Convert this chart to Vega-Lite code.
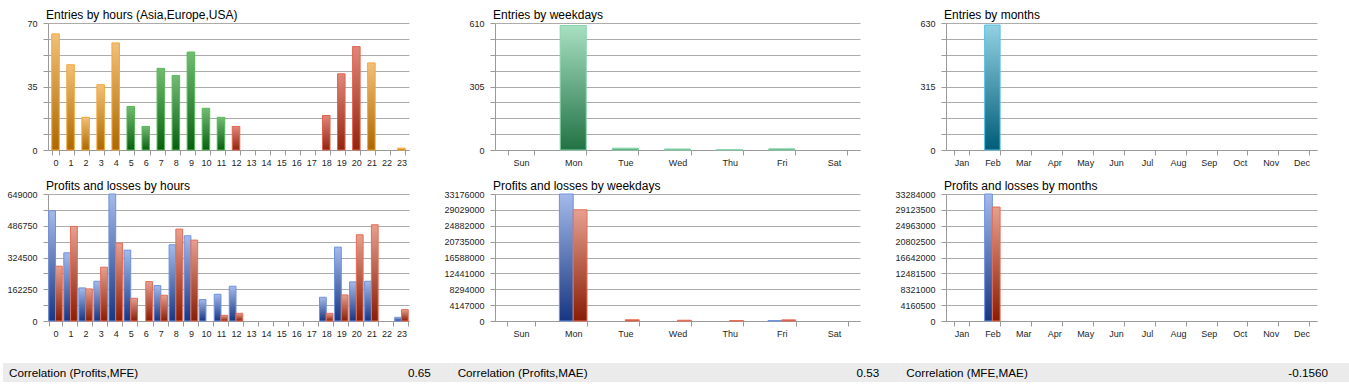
{
  "$schema": "https://vega.github.io/schema/vega-lite/v6.json",
  "padding": {"left": 3, "top": 9, "right": 0, "bottom": 0},
  "autosize": {"type": "pad"},
  "background": "white",
  "config": {
    "view": {"stroke": null},
    "axis": {
      "labelFont": "Liberation Sans", "labelFontSize": 9, "labelColor": "#1e1e1e",
      "domainColor": "#9a9a9a", "tickColor": "#9a9a9a", "gridColor": "#ababab", "gridWidth": 1,
      "tickSize": 5, "title": null, "labelOverlap": false
    },
    "axisY": {"labelPadding": 6, "labelFlush": false, "format": "d", "grid": true},
    "axisX": {"labelPadding": 3, "labelAngle": 0, "tickBand": "extent", "grid": false},
    "title": {"font": "Liberation Sans", "fontSize": 12, "fontWeight": "normal", "anchor": "start", "frame": "group", "color": "#000000", "offset": -3, "dx": -2, "baseline": "alphabetic"}
  },
  "datasets": {
    "hours": [
      {"hour": 0, "entries": 64, "zone": "Asia"}, {"hour": 1, "entries": 47, "zone": "Asia"},
      {"hour": 2, "entries": 18, "zone": "Asia"}, {"hour": 3, "entries": 36, "zone": "Asia"},
      {"hour": 4, "entries": 59, "zone": "Asia"}, {"hour": 5, "entries": 24, "zone": "Europe"},
      {"hour": 6, "entries": 13, "zone": "Europe"}, {"hour": 7, "entries": 45, "zone": "Europe"},
      {"hour": 8, "entries": 41, "zone": "Europe"}, {"hour": 9, "entries": 54, "zone": "Europe"},
      {"hour": 10, "entries": 23, "zone": "Europe"}, {"hour": 11, "entries": 18, "zone": "Europe"},
      {"hour": 12, "entries": 13, "zone": "USA"}, {"hour": 13, "entries": 0, "zone": "USA"},
      {"hour": 14, "entries": 0, "zone": "USA"}, {"hour": 15, "entries": 0, "zone": "USA"},
      {"hour": 16, "entries": 0, "zone": "USA"}, {"hour": 17, "entries": 0, "zone": "USA"},
      {"hour": 18, "entries": 19, "zone": "USA"}, {"hour": 19, "entries": 42, "zone": "USA"},
      {"hour": 20, "entries": 57, "zone": "USA"}, {"hour": 21, "entries": 48, "zone": "Asia"},
      {"hour": 22, "entries": 0, "zone": "Asia"}, {"hour": 23, "entries": 1, "zone": "Asia"}
    ],
    "hourpl": [
      {"hour": 0, "kind": "Profits", "amount": 563600}, {"hour": 0, "kind": "Losses", "amount": 280100},
      {"hour": 1, "kind": "Profits", "amount": 348400}, {"hour": 1, "kind": "Losses", "amount": 483300},
      {"hour": 2, "kind": "Profits", "amount": 169100}, {"hour": 2, "kind": "Losses", "amount": 164000},
      {"hour": 3, "kind": "Profits", "amount": 203200}, {"hour": 3, "kind": "Losses", "amount": 275000},
      {"hour": 4, "kind": "Profits", "amount": 649000}, {"hour": 4, "kind": "Losses", "amount": 397900},
      {"hour": 5, "kind": "Profits", "amount": 362100}, {"hour": 5, "kind": "Losses", "amount": 116100},
      {"hour": 6, "kind": "Profits", "amount": 0}, {"hour": 6, "kind": "Losses", "amount": 201500},
      {"hour": 7, "kind": "Profits", "amount": 181000}, {"hour": 7, "kind": "Losses", "amount": 131500},
      {"hour": 8, "kind": "Profits", "amount": 389400}, {"hour": 8, "kind": "Losses", "amount": 469700},
      {"hour": 9, "kind": "Profits", "amount": 435500}, {"hour": 9, "kind": "Losses", "amount": 413300},
      {"hour": 10, "kind": "Profits", "amount": 109300}, {"hour": 10, "kind": "Losses", "amount": 0},
      {"hour": 11, "kind": "Profits", "amount": 136600}, {"hour": 11, "kind": "Losses", "amount": 29000},
      {"hour": 12, "kind": "Profits", "amount": 177600}, {"hour": 12, "kind": "Losses", "amount": 39300},
      {"hour": 18, "kind": "Profits", "amount": 121300}, {"hour": 18, "kind": "Losses", "amount": 39300},
      {"hour": 19, "kind": "Profits", "amount": 377500}, {"hour": 19, "kind": "Losses", "amount": 133200},
      {"hour": 20, "kind": "Profits", "amount": 199800}, {"hour": 20, "kind": "Losses", "amount": 440600},
      {"hour": 21, "kind": "Profits", "amount": 203200}, {"hour": 21, "kind": "Losses", "amount": 491900},
      {"hour": 23, "kind": "Profits", "amount": 18800}, {"hour": 23, "kind": "Losses", "amount": 58100}
    ],
    "days": [
      {"day": "Sun", "entries": 0}, {"day": "Mon", "entries": 598}, {"day": "Tue", "entries": 9},
      {"day": "Wed", "entries": 5}, {"day": "Thu", "entries": 2}, {"day": "Fri", "entries": 6},
      {"day": "Sat", "entries": 0}
    ],
    "daypl": [
      {"day": "Mon", "kind": "Profits", "amount": 33176000}, {"day": "Mon", "kind": "Losses", "amount": 29050000},
      {"day": "Tue", "kind": "Losses", "amount": 330000},
      {"day": "Wed", "kind": "Losses", "amount": 200000},
      {"day": "Thu", "kind": "Losses", "amount": 130000},
      {"day": "Fri", "kind": "Profits", "amount": 108000}, {"day": "Fri", "kind": "Losses", "amount": 300000}
    ],
    "months": [
      {"month": "Jan", "entries": 0}, {"month": "Feb", "entries": 620}, {"month": "Mar", "entries": 0},
      {"month": "Apr", "entries": 0}, {"month": "May", "entries": 0}, {"month": "Jun", "entries": 0},
      {"month": "Jul", "entries": 0}, {"month": "Aug", "entries": 0}, {"month": "Sep", "entries": 0},
      {"month": "Oct", "entries": 0}, {"month": "Nov", "entries": 0}, {"month": "Dec", "entries": 0}
    ],
    "monthpl": [
      {"month": "Feb", "kind": "Profits", "amount": 33284000}, {"month": "Feb", "kind": "Losses", "amount": 29868000}
    ],
    "corr": [
      {"name": "Correlation (Profits,MFE)", "value": "0.65"},
      {"name": "Correlation (Profits,MAE)", "value": "0.53"},
      {"name": "Correlation (MFE,MAE)", "value": "-0.1560"}
    ]
  },
  "vconcat": [
    {
      "concat": [
        {
          "width": 361, "height": 127,
          "title": "Entries by hours (Asia,Europe,USA)",
          "data": {"name": "hours"},
          "encoding": {
            "x": {"field": "hour", "type": "ordinal", "scale": {"domain": [0,1,2,3,4,5,6,7,8,9,10,11,12,13,14,15,16,17,18,19,20,21,22,23], "paddingInner": 0.5, "paddingOuter": 0.25}},
            "y": {"field": "entries", "type": "quantitative", "scale": {"domain": [0, 70], "nice": false},
                  "axis": {"values": [0,8.75,17.5,26.25,35,43.75,52.5,61.25,70], "labelExpr": "datum.value % 35 == 0 ? datum.label : ''"}}
          },
          "layer": [
            {"transform": [{"filter": "datum.zone == 'Asia' && datum.entries > 0"}],
             "mark": {"type": "bar", "stroke": "#f5a733", "strokeWidth": 1,
                      "fill": {"gradient": "linear", "x1": 0, "y1": 0, "x2": 0, "y2": 1, "stops": [{"offset": 0, "color": "#f2c07a"}, {"offset": 1, "color": "#ac6800"}]}}},
            {"transform": [{"filter": "datum.zone == 'Europe' && datum.entries > 0"}],
             "mark": {"type": "bar", "stroke": "#58b858", "strokeWidth": 1,
                      "fill": {"gradient": "linear", "x1": 0, "y1": 0, "x2": 0, "y2": 1, "stops": [{"offset": 0, "color": "#72bc72"}, {"offset": 1, "color": "#08600f"}]}}},
            {"transform": [{"filter": "datum.zone == 'USA' && datum.entries > 0"}],
             "mark": {"type": "bar", "stroke": "#e26450", "strokeWidth": 1,
                      "fill": {"gradient": "linear", "x1": 0, "y1": 0, "x2": 0, "y2": 1, "stops": [{"offset": 0, "color": "#e0877a"}, {"offset": 1, "color": "#92240c"}]}}}
          ]
        },
        {
          "width": 365, "height": 127,
          "title": "Entries by weekdays",
          "data": {"name": "days"},
          "transform": [{"filter": "datum.entries > 0"}],
          "mark": {"type": "bar", "stroke": "#86d6aa", "strokeWidth": 1,
                   "fill": {"gradient": "linear", "x1": 0, "y1": 0, "x2": 0, "y2": 1, "stops": [{"offset": 0, "color": "#a8e0c2"}, {"offset": 1, "color": "#217244"}]}},
          "encoding": {
            "x": {"field": "day", "type": "nominal", "scale": {"domain": ["Sun","Mon","Tue","Wed","Thu","Fri","Sat"], "paddingInner": 0.5, "paddingOuter": 0.25}},
            "y": {"field": "entries", "type": "quantitative", "scale": {"domain": [0, 610], "nice": false},
                  "axis": {"values": [0,76.25,152.5,228.75,305,381.25,457.5,533.75,610], "labelExpr": "datum.value % 305 == 0 ? datum.label : ''"}}
          }
        },
        {
          "width": 371, "height": 127,
          "title": "Entries by months",
          "data": {"name": "months"},
          "transform": [{"filter": "datum.entries > 0"}],
          "mark": {"type": "bar", "stroke": "#52c3e3", "strokeWidth": 1,
                   "fill": {"gradient": "linear", "x1": 0, "y1": 0, "x2": 0, "y2": 1, "stops": [{"offset": 0, "color": "#92d1e3"}, {"offset": 1, "color": "#005c78"}]}},
          "encoding": {
            "x": {"field": "month", "type": "nominal", "scale": {"domain": ["Jan","Feb","Mar","Apr","May","Jun","Jul","Aug","Sep","Oct","Nov","Dec"], "paddingInner": 0.5, "paddingOuter": 0.25}},
            "y": {"field": "entries", "type": "quantitative", "scale": {"domain": [0, 630], "nice": false},
                  "axis": {"values": [0,78.75,157.5,236.25,315,393.75,472.5,551.25,630], "labelExpr": "datum.value % 315 == 0 ? datum.label : ''"}}
          }
        },
        {
          "width": 361, "height": 127,
          "title": "Profits and losses by hours",
          "data": {"name": "hourpl"},
          "encoding": {
            "x": {"field": "hour", "type": "ordinal", "scale": {"domain": [0,1,2,3,4,5,6,7,8,9,10,11,12,13,14,15,16,17,18,19,20,21,22,23], "paddingInner": 0.1, "paddingOuter": 0.05}},
            "xOffset": {"field": "kind", "type": "nominal", "scale": {"domain": ["Profits", "Losses"], "paddingInner": 0, "paddingOuter": 0}},
            "y": {"field": "amount", "type": "quantitative", "scale": {"domain": [0, 649000], "nice": false},
                  "axis": {"values": [0,81125,162250,243375,324500,405625,486750,567875,649000], "labelExpr": "datum.value % 162250 == 0 ? datum.label : ''"}}
          },
          "layer": [
            {"transform": [{"filter": "datum.kind == 'Profits' && datum.amount > 0"}],
             "mark": {"type": "bar", "stroke": "#6f91df", "strokeWidth": 1,
                      "fill": {"gradient": "linear", "x1": 0, "y1": 0, "x2": 0, "y2": 1, "stops": [{"offset": 0, "color": "#a4baea"}, {"offset": 1, "color": "#173682"}]}}},
            {"transform": [{"filter": "datum.kind == 'Losses' && datum.amount > 0"}],
             "mark": {"type": "bar", "stroke": "#e86c55", "strokeWidth": 1,
                      "fill": {"gradient": "linear", "x1": 0, "y1": 0, "x2": 0, "y2": 1, "stops": [{"offset": 0, "color": "#e6a090"}, {"offset": 1, "color": "#881d04"}]}}}
          ]
        },
        {
          "width": 365, "height": 127,
          "title": "Profits and losses by weekdays",
          "data": {"name": "daypl"},
          "encoding": {
            "x": {"field": "day", "type": "nominal", "scale": {"domain": ["Sun","Mon","Tue","Wed","Thu","Fri","Sat"], "paddingInner": 0.47, "paddingOuter": 0.235}},
            "xOffset": {"field": "kind", "type": "nominal", "scale": {"domain": ["Profits", "Losses"], "paddingInner": 0, "paddingOuter": 0}},
            "y": {"field": "amount", "type": "quantitative", "scale": {"domain": [0, 33176000], "nice": false},
                  "axis": {"values": [0,4147000,8294000,12441000,16588000,20735000,24882000,29029000,33176000]}}
          },
          "layer": [
            {"transform": [{"filter": "datum.kind == 'Profits'"}],
             "mark": {"type": "bar", "stroke": "#6f91df", "strokeWidth": 1,
                      "fill": {"gradient": "linear", "x1": 0, "y1": 0, "x2": 0, "y2": 1, "stops": [{"offset": 0, "color": "#a4baea"}, {"offset": 1, "color": "#173682"}]}}},
            {"transform": [{"filter": "datum.kind == 'Losses'"}],
             "mark": {"type": "bar", "stroke": "#e86c55", "strokeWidth": 1,
                      "fill": {"gradient": "linear", "x1": 0, "y1": 0, "x2": 0, "y2": 1, "stops": [{"offset": 0, "color": "#e6a090"}, {"offset": 1, "color": "#881d04"}]}}}
          ]
        },
        {
          "width": 371, "height": 127,
          "title": "Profits and losses by months",
          "data": {"name": "monthpl"},
          "encoding": {
            "x": {"field": "month", "type": "nominal", "scale": {"domain": ["Jan","Feb","Mar","Apr","May","Jun","Jul","Aug","Sep","Oct","Nov","Dec"], "paddingInner": 0.5, "paddingOuter": 0.25}},
            "xOffset": {"field": "kind", "type": "nominal", "scale": {"domain": ["Profits", "Losses"], "paddingInner": 0, "paddingOuter": 0}},
            "y": {"field": "amount", "type": "quantitative", "scale": {"domain": [0, 33284000], "nice": false},
                  "axis": {"values": [0,4160500,8321000,12481500,16642000,20802500,24963000,29123500,33284000]}}
          },
          "layer": [
            {"transform": [{"filter": "datum.kind == 'Profits'"}],
             "mark": {"type": "bar", "stroke": "#6f91df", "strokeWidth": 1,
                      "fill": {"gradient": "linear", "x1": 0, "y1": 0, "x2": 0, "y2": 1, "stops": [{"offset": 0, "color": "#a4baea"}, {"offset": 1, "color": "#173682"}]}}},
            {"transform": [{"filter": "datum.kind == 'Losses'"}],
             "mark": {"type": "bar", "stroke": "#e86c55", "strokeWidth": 1,
                      "fill": {"gradient": "linear", "x1": 0, "y1": 0, "x2": 0, "y2": 1, "stops": [{"offset": 0, "color": "#e6a090"}, {"offset": 1, "color": "#881d04"}]}}}
          ]
        }
      ],
      "columns": 3,
      "align": "each",
      "bounds": "flush",
      "spacing": {"row": 44, "column": 86},
      "resolve": {"scale": {"x": "independent", "y": "independent", "xOffset": "independent"}}
    },
    {
      "width": 1301, "height": 19,
      "data": {"name": "corr"},
      "encoding": {
        "x": {"field": "name", "type": "nominal", "sort": null, "scale": {"range": [-45, 1301], "paddingInner": 0, "paddingOuter": 0}, "axis": null}
      },
      "layer": [
        {"mark": {"type": "bar", "fill": "#ebebeb", "stroke": null}},
        {"mark": {"type": "text", "align": "left", "baseline": "middle", "dx": 6, "font": "Liberation Sans", "fontSize": 11.7, "color": "#000000"},
         "encoding": {"x": {"field": "name", "type": "nominal", "sort": null, "bandPosition": 0}, "text": {"field": "name"}}},
        {"mark": {"type": "text", "align": "right", "baseline": "middle", "dx": -21, "font": "Liberation Sans", "fontSize": 11.7, "color": "#000000"},
         "encoding": {"x": {"field": "name", "type": "nominal", "sort": null, "bandPosition": 1}, "text": {"field": "value"}}}
      ]
    }
  ],
  "spacing": 25,
  "bounds": "full"
}
